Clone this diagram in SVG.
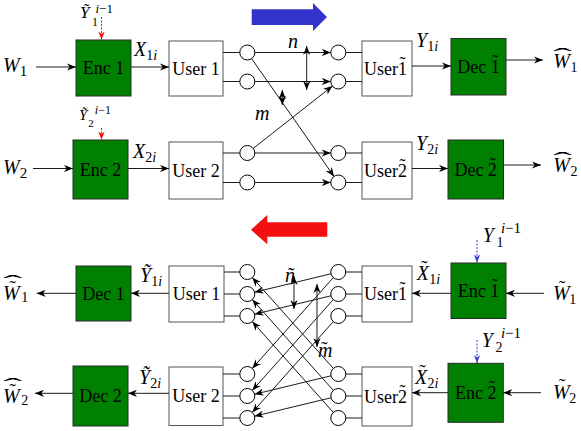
<svg xmlns="http://www.w3.org/2000/svg" width="581" height="431" viewBox="0 0 581 431" font-family="'Liberation Serif','Times New Roman','DejaVu Serif',serif">
<style>
.g{fill:#008000;stroke:#2a2a2a;stroke-width:1}
.u{fill:#fff;stroke:#555;stroke-width:1}
.c{fill:#fff;stroke:#000;stroke-width:1}
.ln{stroke:#1a1a1a;stroke-width:1;fill:none}
.a{marker-end:url(#ah)}
.d{marker-start:url(#ah);marker-end:url(#ah)}
.t{font-family:'Liberation Serif','Times New Roman','DejaVu Serif',serif;font-size:18px;fill:#000}
.tc{text-anchor:middle}
.m{font-family:'Liberation Serif','Times New Roman','DejaVu Serif',serif;font-size:20px;fill:#000}
.i{font-style:italic}
</style>
<defs>
<marker id="ah" viewBox="0 0 10 8" refX="10" refY="4" markerWidth="9" markerHeight="7.2" markerUnits="userSpaceOnUse" orient="auto-start-reverse"><path d="M0,0 L10,4 L0,8 L3,4 z" fill="#000"/></marker>
<marker id="ahr" viewBox="0 0 10 8" refX="10" refY="4" markerWidth="8" markerHeight="6.4" markerUnits="userSpaceOnUse" orient="auto"><path d="M0,0 L10,4 L0,8 L3,4 z" fill="#f00"/></marker>
<marker id="ahb" viewBox="0 0 10 8" refX="10" refY="4" markerWidth="8" markerHeight="6.4" markerUnits="userSpaceOnUse" orient="auto"><path d="M0,0 L10,4 L0,8 L3,4 z" fill="#3b3bd6"/></marker>
</defs>

<!-- direction arrows -->
<polygon id="dir-forward" points="251.7,9.3 313,9.3 313,3 327,17 313,31 313,25 251.7,25" fill="#3333cc"/>
<polygon id="dir-backward" points="251,229.7 267.3,215 267.3,222.3 327.3,222.3 327.3,236.7 267.3,236.7 267.3,244.3" fill="#f21010"/>

<!-- TOP: nodes -->
<g id="enc1"><rect class="g" x="76" y="40" width="55" height="56"/><text class="t tc" x="103.5" y="74">Enc 1</text></g>
<g id="enc2"><rect class="g" x="73" y="140" width="55" height="59"/><text class="t tc" x="100.5" y="175.5">Enc 2</text></g>
<g id="user1-top"><rect class="u" x="169" y="41" width="54" height="55"/><text class="t tc" x="196" y="74.5">User 1</text></g>
<g id="user2-top"><rect class="u" x="169" y="142" width="54" height="57"/><text class="t tc" x="196" y="176.5">User 2</text></g>
<g id="user1t-top"><rect class="u" x="362" y="41" width="50" height="55"/><text class="t" x="364" y="74.5">User1<tspan dx="-7.5" dy="-5">˜</tspan></text></g>
<g id="user2t-top"><rect class="u" x="362" y="142" width="50" height="57"/><text class="t" x="364" y="176.5">User2<tspan dx="-7.5" dy="-5">˜</tspan></text></g>
<g id="dec1t"><rect class="g" x="451" y="38.5" width="55" height="56.5"/><text class="t" x="457.2" y="73">Dec 1<tspan dx="-7.5" dy="-5">˜</tspan></text></g>
<g id="dec2t"><rect class="g" x="448" y="140" width="55.5" height="59"/><text class="t" x="454.4" y="176">Dec 2<tspan dx="-7.5" dy="-5">˜</tspan></text></g>
<g id="ports-top">
<circle class="c" cx="247.3" cy="52.5" r="7.5"/><circle class="c" cx="247.3" cy="81.5" r="7.5"/>
<circle class="c" cx="247.3" cy="153" r="7.5"/><circle class="c" cx="247.3" cy="182.5" r="7.5"/>
<circle class="c" cx="338.3" cy="52.5" r="7.5"/><circle class="c" cx="338.3" cy="81.5" r="7.5"/>
<circle class="c" cx="338.3" cy="153" r="7.5"/><circle class="c" cx="338.3" cy="182.5" r="7.5"/>
</g>

<!-- BOTTOM: nodes -->
<g id="dec1"><rect class="g" x="76" y="266" width="55" height="55"/><text class="t tc" x="103.5" y="299.5">Dec 1</text></g>
<g id="dec2"><rect class="g" x="73" y="366" width="55" height="60"/><text class="t tc" x="100.5" y="402">Dec 2</text></g>
<g id="user1-bot"><rect class="u" x="169" y="266" width="55" height="56"/><text class="t tc" x="196.5" y="300">User 1</text></g>
<g id="user2-bot"><rect class="u" x="169" y="367" width="54" height="58.5"/><text class="t tc" x="196" y="402">User 2</text></g>
<g id="user1t-bot"><rect class="u" x="362" y="266" width="50" height="56"/><text class="t" x="364" y="300">User1<tspan dx="-7.5" dy="-5">˜</tspan></text></g>
<g id="user2t-bot"><rect class="u" x="362" y="367" width="50" height="59"/><text class="t" x="364" y="403">User2<tspan dx="-7.5" dy="-5">˜</tspan></text></g>
<g id="enc1t"><rect class="g" x="451" y="263" width="55" height="55.5"/><text class="t" x="457.7" y="296.5">Enc 1<tspan dx="-7.5" dy="-5">˜</tspan></text></g>
<g id="enc2t"><rect class="g" x="448" y="363.3" width="55.3" height="59"/><text class="t" x="455" y="399">Enc 2<tspan dx="-7.5" dy="-5">˜</tspan></text></g>
<g id="ports-bot">
<circle class="c" cx="247.3" cy="272" r="7.5"/><circle class="c" cx="247.3" cy="294" r="7.5"/><circle class="c" cx="247.3" cy="316" r="7.5"/>
<circle class="c" cx="247.3" cy="374" r="7.5"/><circle class="c" cx="247.3" cy="396" r="7.5"/><circle class="c" cx="247.3" cy="418" r="7.5"/>
<circle class="c" cx="338.3" cy="272" r="7.5"/><circle class="c" cx="338.3" cy="294" r="7.5"/><circle class="c" cx="338.3" cy="316" r="7.5"/>
<circle class="c" cx="338.3" cy="374" r="7.5"/><circle class="c" cx="338.3" cy="396" r="7.5"/><circle class="c" cx="338.3" cy="418" r="7.5"/>
</g>

<!-- connectors -->
<g id="connectors">
<line class="ln a" x1="36" y1="67" x2="76" y2="67"/>
<line class="ln a" x1="131" y1="67" x2="169" y2="67"/>
<line class="ln a" x1="33" y1="168.5" x2="73" y2="168.5"/>
<line class="ln a" x1="128" y1="168.5" x2="169" y2="168.5"/>
<line x1="101.5" y1="17" x2="101.5" y2="39.5" stroke="#f00" stroke-width="1" stroke-dasharray="2,1.5" marker-end="url(#ahr)"/>
<line x1="101.5" y1="128" x2="101.5" y2="139.5" stroke="#f00" stroke-width="1" stroke-dasharray="2,1.5" marker-end="url(#ahr)"/>
<line class="ln" x1="223" y1="52.5" x2="239.8" y2="52.5"/>
<line class="ln" x1="223" y1="81.5" x2="239.8" y2="81.5"/>
<line class="ln" x1="223" y1="153" x2="239.8" y2="153"/>
<line class="ln" x1="223" y1="182.5" x2="239.8" y2="182.5"/>
<line class="ln" x1="345.8" y1="52.5" x2="362" y2="52.5"/>
<line class="ln" x1="345.8" y1="81.5" x2="362" y2="81.5"/>
<line class="ln" x1="345.8" y1="153" x2="362" y2="153"/>
<line class="ln" x1="345.8" y1="182.5" x2="362" y2="182.5"/>
<line class="ln a" x1="254.8" y1="52.5" x2="330.8" y2="52.5"/>
<line class="ln a" x1="254.8" y1="81.5" x2="330.8" y2="81.5"/>
<line class="ln a" x1="254.8" y1="153" x2="330.8" y2="153"/>
<line class="ln a" x1="254.8" y1="182.5" x2="330.8" y2="182.5"/>
<line class="ln a" x1="251.6" y1="58.6" x2="334" y2="176.4"/>
<line class="ln a" x1="253.2" y1="148.4" x2="332.4" y2="86.1"/>
<line class="ln d" x1="306.7" y1="46" x2="306.7" y2="90"/>
<line class="ln d" x1="282.3" y1="90" x2="282.3" y2="105"/>
<line class="ln a" x1="412" y1="66" x2="451" y2="66"/>
<line class="ln a" x1="506" y1="60" x2="543" y2="60"/>
<line class="ln a" x1="412" y1="168.5" x2="448" y2="168.5"/>
<line class="ln a" x1="503.5" y1="165" x2="541" y2="165"/>
<line class="ln a" x1="76" y1="293.3" x2="36.7" y2="293.3"/>
<line class="ln a" x1="169" y1="293.3" x2="131" y2="293.3"/>
<line class="ln a" x1="73" y1="393.3" x2="35" y2="393.3"/>
<line class="ln a" x1="169" y1="393.3" x2="128" y2="393.3"/>
<line class="ln" x1="224" y1="272" x2="239.8" y2="272"/>
<line class="ln" x1="224" y1="294" x2="239.8" y2="294"/>
<line class="ln" x1="224" y1="316" x2="239.8" y2="316"/>
<line class="ln" x1="223" y1="374" x2="239.8" y2="374"/>
<line class="ln" x1="223" y1="396" x2="239.8" y2="396"/>
<line class="ln" x1="223" y1="418" x2="239.8" y2="418"/>
<line class="ln" x1="345.8" y1="272" x2="362" y2="272"/>
<line class="ln" x1="345.8" y1="294" x2="362" y2="294"/>
<line class="ln" x1="345.8" y1="316" x2="362" y2="316"/>
<line class="ln" x1="345.8" y1="374" x2="362" y2="374"/>
<line class="ln" x1="345.8" y1="396" x2="362" y2="396"/>
<line class="ln" x1="345.8" y1="418" x2="362" y2="418"/>
<line class="ln a" x1="331" y1="273.8" x2="254.6" y2="292.2"/>
<line class="ln a" x1="331" y1="295.8" x2="254.6" y2="314.2"/>
<line class="ln a" x1="333.3" y1="277.6" x2="252.3" y2="368.4"/>
<line class="ln a" x1="333.3" y1="299.6" x2="252.3" y2="390.4"/>
<line class="ln a" x1="333.3" y1="321.6" x2="252.3" y2="412.4"/>
<line class="ln a" x1="333.3" y1="368.4" x2="252.3" y2="277.6"/>
<line class="ln a" x1="333.3" y1="390.4" x2="252.3" y2="299.6"/>
<line class="ln a" x1="333.3" y1="412.4" x2="252.3" y2="321.6"/>
<line class="ln a" x1="331" y1="375.8" x2="254.6" y2="394.2"/>
<line class="ln a" x1="331" y1="397.8" x2="254.6" y2="416.2"/>
<line class="ln d" x1="294" y1="276" x2="294" y2="309"/>
<line class="ln d" x1="317" y1="284" x2="317" y2="347"/>
<line class="ln a" x1="451" y1="293.3" x2="412" y2="293.3"/>
<line class="ln a" x1="544" y1="293.3" x2="506" y2="293.3"/>
<line class="ln a" x1="448" y1="392.7" x2="412" y2="392.7"/>
<line class="ln a" x1="541" y1="392.7" x2="503.3" y2="392.7"/>
<line x1="477" y1="240" x2="477" y2="262.5" stroke="#3b3bd6" stroke-width="1" stroke-dasharray="2,1.5" marker-end="url(#ahb)"/>
<line x1="477" y1="340" x2="477" y2="363" stroke="#3b3bd6" stroke-width="1" stroke-dasharray="2,1.5" marker-end="url(#ahb)"/>
</g>

<!-- labels -->
<g id="labels">
<text class="m" x="3" y="72" font-size="22"><tspan class="i">W</tspan><tspan font-size="15" dy="4">1</tspan></text>
<text class="m" x="3" y="174" font-size="22"><tspan class="i">W</tspan><tspan font-size="15" dy="4">2</tspan></text>
<text class="m" x="134" y="56"><tspan class="i">X</tspan><tspan font-size="14" dy="4">1</tspan><tspan class="i" font-size="14">i</tspan></text>
<text class="m" x="133" y="158"><tspan class="i">X</tspan><tspan font-size="14" dy="4">2</tspan><tspan class="i" font-size="14">i</tspan></text>
<text class="m" x="80" y="17.5"><tspan class="i" font-size="17">Ỹ</tspan><tspan font-size="12" dx="2.5" dy="8">1</tspan><tspan font-size="13" dx="-2.5" dy="-13"><tspan class="i">i</tspan>−1</tspan></text>
<text class="m" x="79" y="120"><tspan class="i" font-size="15">Ỹ</tspan><tspan font-size="11" dx="1" dy="7">2</tspan><tspan font-size="12" dx="1" dy="-13.5"><tspan class="i">i</tspan>−1</tspan></text>
<text class="m i" x="288" y="48" font-size="27">n</text>
<text class="m i" x="255" y="120" font-size="27">m</text>
<text class="m" x="416" y="47"><tspan class="i">Y</tspan><tspan font-size="14" dy="4">1</tspan><tspan class="i" font-size="14">i</tspan></text>
<text class="m" x="416" y="150"><tspan class="i">Y</tspan><tspan font-size="14" dy="4">2</tspan><tspan class="i" font-size="14">i</tspan></text>
<text class="m" x="553" y="68" font-size="21"><tspan class="i">W</tspan><tspan dx="-17" dy="-5" textLength="19" lengthAdjust="spacingAndGlyphs">ˆ</tspan><tspan font-size="14" dx="-1.5" dy="9">1</tspan></text>
<text class="m" x="553" y="172" font-size="21"><tspan class="i">W</tspan><tspan dx="-17" dy="-5" textLength="19" lengthAdjust="spacingAndGlyphs">ˆ</tspan><tspan font-size="14" dx="-1.5" dy="9">2</tspan></text>

<text class="m" x="3" y="300" font-size="21"><tspan class="i">W</tspan><tspan dx="-10.5" dy="-5.5">˜</tspan><tspan dx="-12.5" dy="-5" textLength="19" lengthAdjust="spacingAndGlyphs">ˆ</tspan><tspan font-size="14" dx="-1" dy="12.5">1</tspan></text>
<text class="m" x="3" y="403" font-size="21"><tspan class="i">W</tspan><tspan dx="-10.5" dy="-5.5">˜</tspan><tspan dx="-12.5" dy="-5" textLength="19" lengthAdjust="spacingAndGlyphs">ˆ</tspan><tspan font-size="14" dx="-1" dy="12.5">2</tspan></text>
<text class="m" x="140" y="282" font-size="19"><tspan class="i">Ỹ</tspan><tspan font-size="14" dy="4">1</tspan><tspan class="i" font-size="14">i</tspan></text>
<text class="m" x="139" y="383.5" font-size="19"><tspan class="i">Ỹ</tspan><tspan font-size="14" dy="4">2</tspan><tspan class="i" font-size="14">i</tspan></text>
<text class="m i" x="285" y="282" font-size="26">ñ</text>
<text class="m" x="318" y="356.7" font-size="26"><tspan class="i">m</tspan><tspan dx="-11.5" dy="-1">˜</tspan></text>
<text class="m" x="416.7" y="280" font-size="19"><tspan class="i">X</tspan><tspan dx="-8" dy="-5">˜</tspan><tspan font-size="14" dx="1.6" dy="9">1</tspan><tspan class="i" font-size="14">i</tspan></text>
<text class="m" x="415" y="383.5" font-size="19"><tspan class="i">X</tspan><tspan dx="-8" dy="-5">˜</tspan><tspan font-size="14" dx="1.6" dy="9">2</tspan><tspan class="i" font-size="14">i</tspan></text>
<text class="m" x="553" y="300" font-size="21"><tspan class="i">W</tspan><tspan dx="-11" dy="-5.5">˜</tspan><tspan font-size="14" dx="4" dy="9.5">1</tspan></text>
<text class="m" x="553" y="398.5" font-size="21"><tspan class="i">W</tspan><tspan dx="-11" dy="-5.5">˜</tspan><tspan font-size="14" dx="4" dy="9.5">2</tspan></text>
<text class="m" x="482.7" y="241.7" font-size="21"><tspan class="i">Y</tspan><tspan font-size="14" dx="2.6" dy="5.3">1</tspan><tspan font-size="15" dx="-2.5" dy="-14"><tspan class="i">i</tspan>−1</tspan></text>
<text class="m" x="481.7" y="346.7" font-size="21"><tspan class="i">Y</tspan><tspan font-size="14" dx="2.6" dy="5.3">2</tspan><tspan font-size="15" dx="-1.5" dy="-14"><tspan class="i">i</tspan>−1</tspan></text>
</g>
</svg>
